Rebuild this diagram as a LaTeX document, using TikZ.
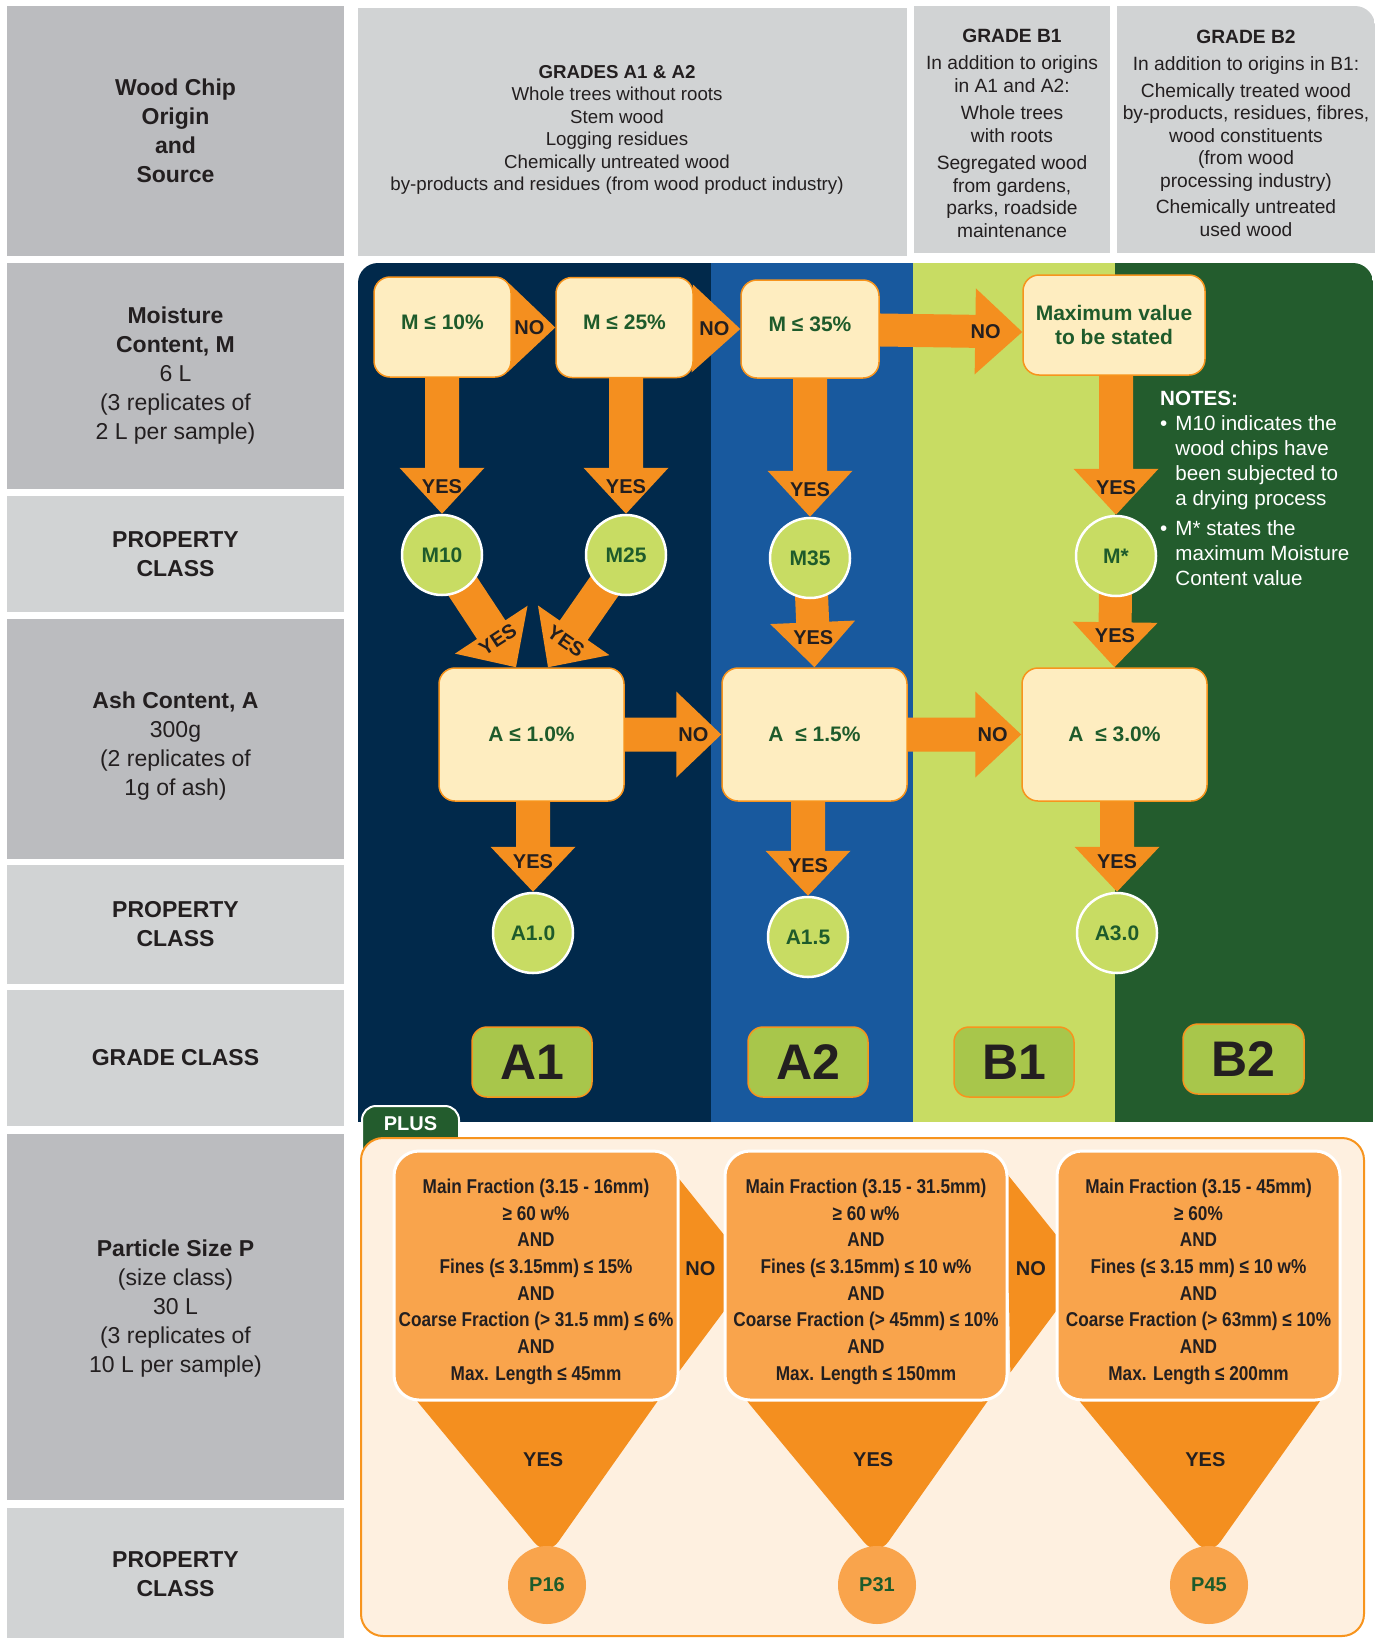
\documentclass[tikz,border=0pt]{standalone}
\usepackage{fontspec}
\setmainfont{Liberation Sans}
\newfontfamily\condfont[FakeStretch=0.86]{Liberation Sans}
\usetikzlibrary{positioning, calc}

\definecolor{greydark}{HTML}{BBBCBF}
\definecolor{greylight}{HTML}{D1D3D4}
\definecolor{navy}{HTML}{01294B}
\definecolor{midblue}{HTML}{18599E}
\definecolor{lime}{HTML}{C8DC63}
\definecolor{forest}{HTML}{235C2D}
\definecolor{arrowor}{HTML}{F48F1F}
\definecolor{cream}{HTML}{FEEDC0}
\definecolor{boxor}{HTML}{F7941D}
\definecolor{gradefill}{HTML}{A8C64B}
\definecolor{txtgreen}{HTML}{1E5B2B}
\definecolor{txtdark}{HTML}{231F20}
\definecolor{paleor}{HTML}{FEF0E0}
\definecolor{psize}{HTML}{F9A44C}

\pgfdeclarelayer{panel}
\pgfdeclarelayer{arrows}
\pgfsetlayers{panel,arrows,main}

% fat orange arrow: [style]{from}{to}{shaft half width}{head half width}{head length}
\newcommand{\fatarrow}[6][]{%
  \coordinate (fa-b) at ($(#3)!#6!(#2)$);
  \fill[arrowor,#1] ($(#2)!#4!90:(#3)$) -- ($(fa-b)!#4!-90:(#2)$)
    -- ($(fa-b)!#5!-90:(#2)$) -- (#3) -- ($(fa-b)!#5!90:(#2)$)
    -- ($(fa-b)!#4!90:(#2)$) -- ($(#2)!#4!-90:(#3)$) -- cycle;
}

\tikzset{
  every node/.style={inner sep=0pt},
  leftcell/.style={minimum width=337pt, align=center, text=txtdark, font=\fontsize{23}{29}\selectfont},
  dark/.style={fill=greydark},
  light/.style={fill=greylight},
  hdrcell/.style={align=center, text=txtdark, font=\fontsize{19.2}{22.5}\selectfont},
  mbox/.style={draw=boxor, line width=1.5pt, fill=cream, rounded corners=16pt, align=center, text=txtgreen, font=\bfseries\fontsize{21}{24}\selectfont},
  propc/.style={circle, fill=lime, draw=white, line width=2.5pt, minimum size=80pt, text=txtgreen, font=\bfseries\fontsize{21}{24}\selectfont},
  gradebox/.style={draw=boxor, line width=1.5pt, fill=gradefill, rounded corners=15pt, minimum width=120pt, minimum height=70pt, text=txtdark, font=\bfseries\fontsize{50}{50}\selectfont},
  yesno/.style={text=txtdark, font=\bfseries\fontsize{20}{20}\selectfont},
  pbox/.style={draw=white, line width=3pt, fill=psize, rounded corners=25pt, minimum height=249pt, align=center, text=txtdark, font=\condfont\bfseries\fontsize{20}{26.7}\selectfont},
  pcirc/.style={circle, fill=psize, minimum size=78pt, text=txtgreen, font=\bfseries\fontsize{20}{20}\selectfont},
}

\begin{document}
\begin{tikzpicture}[x=1pt, y=-1pt]
    \useasboundingbox (0,0) rectangle (1376,1638);

    % backgrounds
    \begin{pgfonlayer}{panel}
        \fill[white] (0,0) rectangle (1376,1638);
        \fill[greylight] (358,8) rectangle (907,256);
        \fill[greylight] (914,6) rectangle (1110,253);
        \begin{scope}
            \clip[rounded corners=20pt] (1000,6) rectangle (1375,300);
            \fill[greylight] (1117,6) rectangle (1375,253);
        \end{scope}
        \begin{scope}
            \clip[rounded corners=20pt] (358,263) rectangle (1373,1200);
            \fill[navy] (358,263) rectangle (711,1122);
            \fill[midblue] (711,263) rectangle (913,1122);
            \fill[lime] (913,263) rectangle (1115,1122);
            \fill[forest] (1115,263) rectangle (1373,1122);
        \end{scope}
        \filldraw[fill=forest, draw=white, line width=2pt, rounded corners=14pt] (362,1106) rectangle (459,1165);
        \filldraw[fill=paleor, draw=boxor, line width=2pt, rounded corners=22pt] (361,1138) rectangle (1364,1636);
    \end{pgfonlayer}

    % left column
    \node[leftcell, dark, minimum height=250pt] (src) at (175.5,131) {\textbf{Wood Chip}\\\textbf{Origin}\\\textbf{and}\\\textbf{Source}};
    \node[leftcell, dark, minimum height=226pt] (moist) at (175.5,376) {\textbf{Moisture}\\\textbf{Content, M}\\6 L\\(3 replicates of\\2 L per sample)};
    \node[leftcell, light, minimum height=116pt] (prop1) at (175.5,554) {\textbf{PROPERTY}\\\textbf{CLASS}};
    \node[leftcell, dark, minimum height=240pt] (ash) at (175.5,739) {\rule{0pt}{31pt}\textbf{Ash Content, A}\\300g\\(2 replicates of\\1g of ash)};
    \node[leftcell, light, minimum height=119pt] (prop2) at (175.5,924.5) {\textbf{PROPERTY}\\\textbf{CLASS}};
    \node[leftcell, light, minimum height=136pt] (gradecl) at (175.5,1058) {\textbf{GRADE CLASS}};
    \node[leftcell, dark, minimum height=366pt] (psz) at (175.5,1317) {\textbf{Particle Size P}\\(size class)\\30 L\\(3 replicates of\\10 L per sample)\rule[-22pt]{0pt}{0pt}};
    \node[leftcell, light, minimum height=132pt] (prop3) at (175.5,1574) {\textbf{PROPERTY}\\\textbf{CLASS}};

    % header
    \node[hdrcell, font=\fontsize{18.7}{22.5}\selectfont] (hA) at (617,130) {\textbf{GRADES A1 \& A2}\\Whole trees without roots\\Stem wood\\Logging residues\\Chemically untreated wood\\by-products and residues (from wood product industry)};
    \node[hdrcell] (hB1) at (1012,133) {\textbf{GRADE B1}\\[5pt]In addition to origins\\in A1 and A2:\\[5pt]Whole trees\\with roots\\[5pt]Segregated wood\\from gardens,\\parks, roadside\\maintenance};
    \node[hdrcell] (hB2) at (1246,133) {\textbf{GRADE B2}\\[5pt]In addition to origins in B1:\\[4pt]Chemically treated wood\\by-products, residues, fibres,\\wood constituents\\(from wood\\processing industry)\\[4pt]Chemically untreated\\used wood};

    % moisture row
    \node[mbox, minimum width=137pt, minimum height=100pt] (bM10) at (442.5,327) {M ≤ 10\%\rule[-10pt]{0pt}{0pt}};
    \node[mbox, minimum width=137pt, minimum height=100pt] (bM25) at (624.5,327.5) {M ≤ 25\%\rule[-10pt]{0pt}{0pt}};
    \node[mbox, minimum width=138pt, minimum height=98pt] (bM35) at (810,329) {M ≤ 35\%\rule[-10pt]{0pt}{0pt}};
    \node[mbox, minimum width=182pt, minimum height=100pt] (bMax) at (1114,325) {Maximum value\\to be stated};
    \node[propc] (cM10) at (442,555) {M10};
    \node[propc] (cM25) at (626,555) {M25};
    \node[propc] (cM35) at (810,558) {M35};
    \node[propc] (cMs) at (1116,556) {M*};

    % ash row
    \node[mbox, minimum width=185pt, minimum height=133pt] (bA10) at (531.5,734.5) {A ≤ 1.0\%};
    \node[mbox, minimum width=185pt, minimum height=133pt] (bA15) at (814.5,734.5) {A~ ≤ 1.5\%};
    \node[mbox, minimum width=185pt, minimum height=133pt] (bA30) at (1114.5,734.5) {A~ ≤ 3.0\%};
    \node[propc] (cA10) at (533,933) {A1.0};
    \node[propc] (cA15) at (808,937) {A1.5};
    \node[propc] (cA30) at (1117,933) {A3.0};

    % grades
    \node[gradebox] (gA1) at (532,1062) {A1};
    \node[gradebox] (gA2) at (808,1062) {A2};
    \node[gradebox] (gB1) at (1014,1062) {B1};
    \node[gradebox, minimum width=121pt] (gB2) at (1243.5,1059) {B2};

    % notes
    \node[anchor=base west, text=white, font=\fontsize{20.6}{25}\selectfont] (notes) at (1160,405) {\begin{tabular}[t]{@{}l@{\hspace{8pt}}l@{}}\multicolumn{2}{@{}l@{}}{\textbf{NOTES:}}\\ \textbullet & M10 indicates the\\ & wood chips have\\ & been subjected to\\ & a drying process\\[5pt] \textbullet & M* states the\\ & maximum Moisture\\ & Content value\end{tabular}};

    % particle size
    \node[font=\bfseries\fontsize{20}{20}\selectfont, text=white] (plus) at (410.5,1124) {PLUS};
    \node[pbox, minimum width=284pt] (pb1) at (536,1275.5) {\rule{0pt}{27pt}Main Fraction (3.15 - 16mm)\\≥ 60 w\%\\AND\\Fines (≤ 3.15mm) ≤ 15\%\\AND\\Coarse Fraction (> 31.5 mm) ≤ 6\%\\AND\\Max. Length ≤ 45mm};
    \node[pbox, minimum width=282pt] (pb2) at (866,1275.5) {\rule{0pt}{27pt}Main Fraction (3.15 - 31.5mm)\\≥ 60 w\%\\AND\\Fines (≤ 3.15mm) ≤ 10 w\%\\AND\\Coarse Fraction (> 45mm) ≤ 10\%\\AND\\Max. Length ≤ 150mm};
    \node[pbox, minimum width=283pt] (pb3) at (1198.5,1275.5) {\rule{0pt}{27pt}Main Fraction (3.15 - 45mm)\\≥ 60\%\\AND\\Fines (≤ 3.15 mm) ≤ 10 w\%\\AND\\Coarse Fraction (> 63mm) ≤ 10\%\\AND\\Max. Length ≤ 200mm};
    \node[pcirc] (cP16) at (547,1585) {P16};
    \node[pcirc] (cP31) at (877,1585) {P31};
    \node[pcirc] (cP45) at (1209,1585) {P45};

    \coordinate (tL) at ([xshift=-15.5pt]bA10.north);
    \coordinate (tR) at ([xshift=16.5pt]bA10.north);
    \coordinate (tMax) at ([yshift=-7pt]bMax.west);
    \coordinate (nt1) at ([xshift=30pt, yshift=4pt]pb2.west);
    \coordinate (nt2) at ([xshift=30pt, yshift=4pt]pb3.west);
    \coordinate (ft1) at ([yshift=-12pt]cP16.north);
    \coordinate (ft2) at ([yshift=-12pt]cP31.north);
    \coordinate (ft3) at ([yshift=-12pt]cP45.north);

    \begin{pgfonlayer}{arrows}
        % moisture
        \fatarrow{bM10}{bM25.west}{17pt}{44.5pt}{47pt}
        \node[yesno] (no1) at ($(fa-b)!0.45!(bM25.west)$) {NO};
        \fatarrow{bM25}{bM35.west}{17pt}{44pt}{48pt}
        \node[yesno] (no2) at ($(fa-b)!0.46!(bM35.west)$) {NO};
        \fatarrow{bM35}{tMax}{16.5pt}{43pt}{47pt}
        \node[yesno] (no3) at ($(fa-b)!0.22!(tMax)$) {NO};
        \foreach \b/\c/\n in {bM10/cM10/1, bM25/cM25/2, bM35/cM35/3, bMax/cMs/4} {
            \coordinate (sm\n) at (\c |- \b.center);
            \fatarrow{sm\n}{\c.north}{17pt}{42.5pt}{46pt}
            \node[yesno] (ym\n) at ($(fa-b)!0.42!(\c.north)$) {YES};
        }
        \fatarrow{cM10}{tL}{17pt}{43.5pt}{45pt}
        \node[yesno, rotate=33] (yd1) at ($(fa-b)!0.26!(tL)$) {YES};
        \fatarrow{cM25}{tR}{17pt}{43.5pt}{45pt}
        \node[yesno, rotate=-35] (yd2) at ($(fa-b)!0.3!(tR)$) {YES};
        \fatarrow{cM35}{bA15.north}{16.5pt}{42.5pt}{45pt}
        \node[yesno] (yd3) at ($(fa-b)!0.33!(bA15.north)$) {YES};
        \fatarrow{cMs}{bA30.north}{16.5pt}{42.5pt}{45pt}
        \node[yesno] (yd4) at ($(fa-b)!0.3!(bA30.north)$) {YES};
        % ash
        \fatarrow{bA10}{bA15.west}{17pt}{43pt}{45pt}
        \node[yesno] (no4) at ($(fa-b)!0.38!(bA15.west)$) {NO};
        \fatarrow{bA15}{bA30.west}{17pt}{43pt}{46pt}
        \node[yesno] (no5) at ($(fa-b)!0.38!(bA30.west)$) {NO};
        \foreach \b/\c/\n in {bA10/cA10/1, bA15/cA15/2, bA30/cA30/3} {
            \coordinate (sa\n) at (\c |- \b.center);
            \fatarrow{sa\n}{\c.north}{17pt}{42.5pt}{45pt}
            \node[yesno] (ya\n) at ($(fa-b)!0.32!(\c.north)$) {YES};
        }
        % particle size
        \fatarrow{pb1}{nt1}{20pt}{99.5pt}{77pt}
        \node[yesno, yshift=4pt] (no6) at ($(fa-b)!0.31!(nt1)$) {NO};
        \fatarrow{pb2}{nt2}{20pt}{99.5pt}{77pt}
        \node[yesno, yshift=4pt] (no7) at ($(fa-b)!0.29!(nt2)$) {NO};
        \foreach \b/\t/\n in {pb1/ft1/1, pb2/ft2/2, pb3/ft3/3} {
            \fatarrow[rounded corners=20pt]{\b}{\t}{30pt}{134pt}{175pt}
            \node[yesno] (yp\n) at ($(fa-b)!0.44!(\t)$) {YES};
        }
    \end{pgfonlayer}
\end{tikzpicture}
\end{document}
